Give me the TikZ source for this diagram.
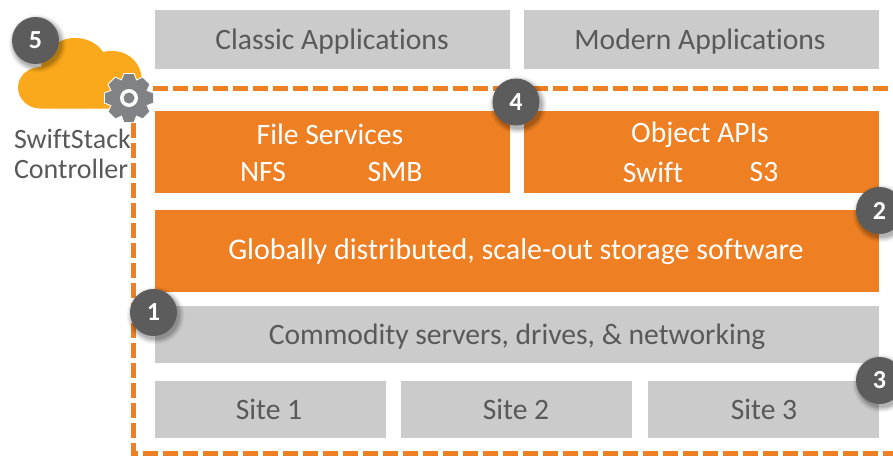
\documentclass[tikz,border=0pt]{standalone}
\usepackage{fontspec}
\setmainfont[Ligatures=NoCommon]{Carlito}
\definecolor{boxgray}{HTML}{CBCBCB}
\definecolor{boxorange}{HTML}{EE7F23}
\definecolor{txtgray}{HTML}{595959}
\definecolor{badge}{HTML}{5C5C5C}
\definecolor{cloudy}{HTML}{F9A91B}
\definecolor{gearg}{HTML}{808285}
\tikzset{
  x=1pt,y=-1pt,
  every node/.style={inner sep=0pt,outer sep=0pt},
  grayb/.style={fill=boxgray,anchor=north west},
  orangeb/.style={fill=boxorange,anchor=north west},
  gtext/.style={text=txtgray,font=\fontsize{29.6}{32}\selectfont,anchor=center,yshift=-1.5pt},
  wtext/.style={text=white,font=\fontsize{29.6}{32}\selectfont,anchor=center,yshift=-1.5pt},
  sidetext/.style={text=txtgray,font=\fontsize{28}{32}\selectfont,anchor=west,yshift=-1pt},
  dashline/.style={draw=boxorange,line width=5pt,dash pattern=on 15pt off 5pt},
  badgec/.style={circle,fill=badge,minimum size=47pt,text=white,font=\bfseries\fontsize{26}{30}\selectfont},
}
\newcommand{\softshadow}[2]{%
  \foreach \rr/\oo in {29/0.03,28/0.04,27/0.05,26/0.06,25/0.07,24/0.08}{
    \fill[black,opacity=\oo] (#1+2,#2+3) circle[radius=\rr pt];
  }}
\begin{document}
\begin{tikzpicture}
\useasboundingbox (0,0) rectangle (893,456);
\fill[white] (0,0) rectangle (893,456);
% boxes
\node[grayb,minimum width=355pt,minimum height=59pt] (classic) at (155,10) {};
\node[grayb,minimum width=355pt,minimum height=59pt] (modern) at (524,10) {};
\node[orangeb,minimum width=355pt,minimum height=82pt] (file) at (155,111) {};
\node[orangeb,minimum width=355pt,minimum height=82pt] (object) at (524,111) {};
\node[orangeb,minimum width=724pt,minimum height=82pt] (global) at (155,210) {};
\node[grayb,minimum width=724pt,minimum height=57pt] (commodity) at (155,306) {};
\node[grayb,minimum width=231pt,minimum height=57pt] (site1) at (155,381) {};
\node[grayb,minimum width=231pt,minimum height=57pt] (site2) at (401,381) {};
\node[grayb,minimum width=231pt,minimum height=57pt] (site3) at (648,381) {};
% texts
\node[gtext] (tclassic) at (332,40) {Classic Applications};
\node[gtext] (tmodern) at (700,40) {Modern Applications};
\node[wtext] (tfile) at (330,132.5) {File Services};
\node[wtext] (tnfs) at (263,170.5) {NFS};
\node[wtext] (tsmb) at (395,170.5) {SMB};
\node[wtext] (tobj) at (700,133) {Object APIs};
\node[wtext] (tswift) at (653,170.5) {Swift};
\node[wtext] (ts3) at (764,170.5) {S3};
\node[wtext,font=\fontsize{30}{32}\selectfont] (tglobal) at (516,250) {Globally distributed, scale-out storage software};
\node[gtext] (tcomm) at (517,335) {Commodity servers, drives, \& networking};
\node[gtext] (ts1) at (269,408) {Site 1};
\node[gtext] (ts2) at (516,408) {Site 2};
\node[gtext] (ts3b) at (764,408) {Site 3};
\node[sidetext] (tswst) at (14,138) {SwiftStack};
\node[sidetext] (tctrl) at (14,168) {Controller};
% cloud
\fill[cloudy] (40,108.5)
  .. controls (28,108.5) and (18,99) .. (18,87.5)
  .. controls (18,76) and (28,67) .. (41,67)
  .. controls (44,50) and (58,38) .. (75,38)
  .. controls (87,38) and (97,43) .. (103,52)
  .. controls (124,47) and (141,60) .. (142,80)
  -- (142,108.5) -- cycle;
% dashed frame
\coordinate (gearc) at (129,98);
\coordinate (tr) at (896,88);
\coordinate (bl) at (133,453);
\coordinate (br) at (896,453);
\draw[dashline] (153,88) -- (tr);
\draw[dashline] (gearc |- 0,123) ++(4,0) -- (bl) -- (br);
% gear
\begin{scope}[shift={(gearc)}]
  \fill[white] (0,0) circle[radius=20pt];
  \foreach \a in {0,45,...,315}{
    \fill[white,draw=white,line width=2pt,rotate=\a] (-7.5,-16.5) -- (-4.7,-24) -- (4.7,-24) -- (7.5,-16.5) -- cycle;
  }
  \fill[gearg] (0,0) circle[radius=18.5pt];
  \foreach \a in {0,45,...,315}{
    \fill[gearg,rotate=\a] (-7.5,-16.5) -- (-4.7,-24) -- (4.7,-24) -- (7.5,-16.5) -- cycle;
  }
  \fill[white] (0,0) circle[radius=9pt];
  \fill[gearg] (0,0) circle[radius=5.5pt];
\end{scope}
% badges
\softshadow{35.5}{40.5}
\node[badgec] (b5) at (35.5,40.5) {5};
\softshadow{516}{102}
\node[badgec] (b4) at (516,102) {4};
\softshadow{879.5}{210.5}
\node[badgec] (b2) at (879.5,210.5) {2};
\softshadow{879.5}{380.5}
\node[badgec] (b3) at (879.5,380.5) {3};
\softshadow{153.5}{312.5}
\node[badgec] (b1) at (153.5,312.5) {1};
\end{tikzpicture}
\end{document}
